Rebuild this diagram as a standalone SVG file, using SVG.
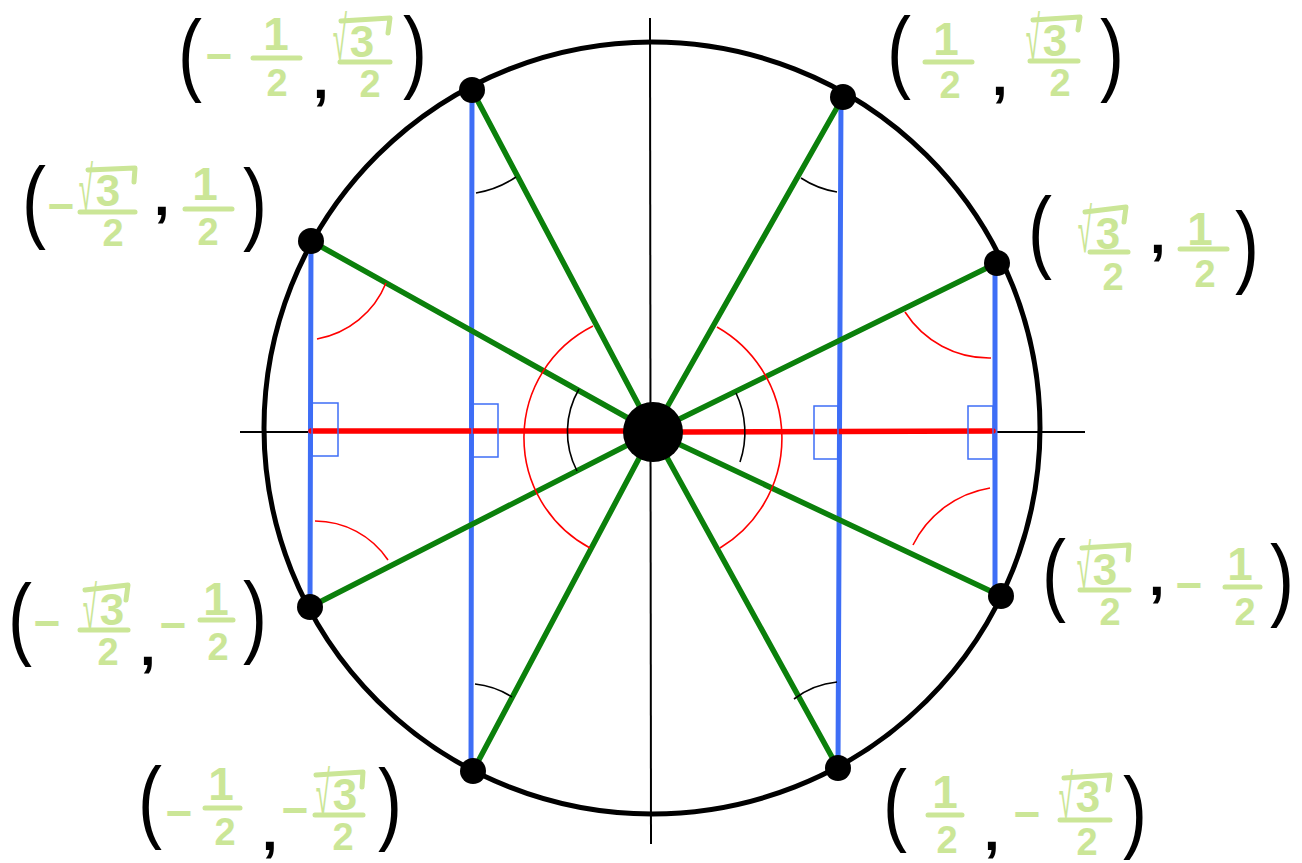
<svg xmlns="http://www.w3.org/2000/svg" width="1302" height="863" viewBox="0 0 1302 863">
<style>
.axis{stroke:#000;stroke-width:2;fill:none}
.circ{stroke:#000;stroke-width:5;fill:none}
.blue{stroke:#3e6ef6;stroke-width:5;stroke-linecap:round;fill:none}
.green{stroke:#0b800b;stroke-width:5.5;stroke-linecap:round;fill:none}
.red{stroke:#ff0000;stroke-width:5.5;stroke-linecap:round;fill:none}
.rarc{stroke:#ff0000;stroke-width:1.6;fill:none}
.karc{stroke:#000;stroke-width:1.6;fill:none}
.box{stroke:#3e6ef6;stroke-width:1.5;fill:none}
.dot{fill:#000}
.p{font-family:"Liberation Sans",Arial,sans-serif;font-size:90px;fill:#000}
.cm{font-family:"Liberation Sans",Arial,sans-serif;font-size:56px;font-weight:bold;fill:#000}
.g{font-family:"Liberation Sans",Arial,sans-serif;font-weight:bold;fill:#cbe697;text-anchor:middle}
.n1{font-size:46px}
.n2{font-size:38px}
.n3{font-size:44px}
.mn{font-size:46px}
.rad{font-family:"Liberation Sans","DejaVu Sans",sans-serif;font-size:62px;fill:#cbe697;text-anchor:end}
.bar{stroke:#cbe697;stroke-width:5;stroke-linecap:round;stroke-linejoin:round;fill:none}
</style>

<g id="axes">
<line class="axis" x1="240" y1="432" x2="1085" y2="432"/>
<line class="axis" x1="650" y1="18" x2="651" y2="844"/>
</g>

<g id="unit-circle">
<ellipse class="circ" cx="652" cy="428" rx="388" ry="386"/>
</g>

<g id="connectors">
<line class="blue" x1="311" y1="241" x2="310" y2="607"/>
<line class="blue" x1="472" y1="90" x2="471" y2="771"/>
<line class="blue" x1="841" y1="97" x2="838" y2="768"/>
<line class="blue" x1="995" y1="263" x2="995" y2="596"/>
<line class="red" x1="311" y1="431" x2="624" y2="431"/>
<line class="red" x1="683" y1="432" x2="993" y2="431"/>
<line class="green" x1="653" y1="432" x2="472" y2="90"/>
<line class="green" x1="653" y1="432" x2="843" y2="97"/>
<line class="green" x1="653" y1="432" x2="311" y2="241"/>
<line class="green" x1="653" y1="432" x2="997" y2="263"/>
<line class="green" x1="653" y1="432" x2="310" y2="607"/>
<line class="green" x1="653" y1="432" x2="1001" y2="596"/>
<line class="green" x1="653" y1="432" x2="473" y2="771"/>
<line class="green" x1="653" y1="432" x2="838" y2="768"/>
</g>

<g id="right-angles">
<rect class="box" x="312" y="403" width="26" height="53"/>
<rect class="box" x="472" y="404" width="26" height="53"/>
<rect class="box" x="814" y="406" width="24" height="53"/>
<rect class="box" x="968" y="406" width="25" height="53"/>
</g>

<g id="angle-marks">
<path class="rarc" d="M593 326 A125 125 0 0 0 590 548"/>
<path class="rarc" d="M717 327 A128 128 0 0 1 720 548"/>
<path class="karc" d="M579 389 A85 85 0 0 0 577 471"/>
<path class="karc" d="M736 393 A92 92 0 0 1 740 462"/>
<path class="rarc" d="M386 283 A92 92 0 0 1 317 339"/>
<path class="rarc" d="M905 312 A100 100 0 0 0 991 358"/>
<path class="rarc" d="M315 521 A88 88 0 0 1 388 560"/>
<path class="rarc" d="M913 545 A105 105 0 0 1 990 488"/>
<path class="karc" d="M476 193 A100 100 0 0 0 516 177"/>
<path class="karc" d="M801 178 A92 92 0 0 0 837 192"/>
<path class="karc" d="M475 684 A85 85 0 0 1 512 697"/>
<path class="karc" d="M794 699 A84 84 0 0 1 837 682"/>
</g>

<g id="points">
<circle class="dot" cx="653" cy="432" r="30"/>
<circle class="dot" cx="472" cy="90" r="13"/>
<circle class="dot" cx="843" cy="97" r="13"/>
<circle class="dot" cx="311" cy="241" r="13"/>
<circle class="dot" cx="997" cy="263" r="13"/>
<circle class="dot" cx="310" cy="607" r="13"/>
<circle class="dot" cx="1001" cy="596" r="13"/>
<circle class="dot" cx="473" cy="771" r="13"/>
<circle class="dot" cx="838" cy="768" r="13"/>
</g>

<g id="label-top-left">
<text class="p" transform="translate(178 84) scale(0.8 1)">(</text>
<text class="g mn" x="219" y="72">−</text>
<text class="g n1" x="276" y="50">1</text>
<line class="bar" x1="253" y1="58" x2="300" y2="58"/>
<text class="g n2" x="277" y="96">2</text>
<text class="cm" x="313" y="98">,</text>
<text class="rad" transform="translate(347 60) scale(0.42 1)">√</text>
<text class="g n3" x="362" y="57">3</text>
<polyline class="bar" points="341,21 390,18 388,33"/>
<line class="bar" x1="340" y1="62" x2="390" y2="62"/>
<text class="g n2" x="370" y="97">2</text>
<text class="p" transform="translate(403 81) scale(0.8 1)">)</text>
</g>

<g id="label-left-upper">
<text class="p" transform="translate(22 231) scale(0.8 1)">(</text>
<text class="g mn" x="61" y="222">−</text>
<text class="rad" transform="translate(93 210) scale(0.42 1)">√</text>
<text class="g n3" x="108" y="206">3</text>
<polyline class="bar" points="88,170 135,168 134,182"/>
<line class="bar" x1="80" y1="212" x2="135" y2="212"/>
<text class="g n2" x="113" y="246">2</text>
<text class="cm" x="154" y="215">,</text>
<text class="g n1" x="205" y="200">1</text>
<line class="bar" x1="185" y1="209" x2="232" y2="209"/>
<text class="g n2" x="208" y="245">2</text>
<text class="p" transform="translate(243 233) scale(0.8 1)">)</text>
</g>

<g id="label-top-right">
<text class="p" transform="translate(887 81) scale(0.8 1)">(</text>
<text class="g n1" x="946" y="55">1</text>
<line class="bar" x1="925" y1="62" x2="972" y2="62"/>
<text class="g n2" x="950" y="98">2</text>
<text class="cm" x="992" y="95">,</text>
<text class="rad" transform="translate(1040 60) scale(0.42 1)">√</text>
<text class="g n3" x="1055" y="56">3</text>
<polyline class="bar" points="1033,20 1080,17 1078,30"/>
<line class="bar" x1="1030" y1="61" x2="1078" y2="61"/>
<text class="g n2" x="1060" y="96">2</text>
<text class="p" transform="translate(1100 84) scale(0.8 1)">)</text>
</g>

<g id="label-right-upper">
<text class="p" transform="translate(1028 261) scale(0.8 1)">(</text>
<text class="rad" transform="translate(1092 252) scale(0.42 1)">√</text>
<text class="g n3" x="1108" y="249">3</text>
<polyline class="bar" points="1085,212 1126,207 1124,222"/>
<line class="bar" x1="1090" y1="252" x2="1128" y2="252"/>
<text class="g n2" x="1113" y="290">2</text>
<text class="cm" x="1150" y="253">,</text>
<text class="g n1" x="1200" y="245">1</text>
<line class="bar" x1="1180" y1="249" x2="1227" y2="249"/>
<text class="g n2" x="1205" y="287">2</text>
<text class="p" transform="translate(1235 276) scale(0.8 1)">)</text>
</g>

<g id="label-left-lower">
<text class="p" transform="translate(8 648) scale(0.8 1)">(</text>
<text class="g mn" x="47" y="639">−</text>
<text class="rad" transform="translate(97 630) scale(0.42 1)">√</text>
<text class="g n3" x="112" y="625">3</text>
<polyline class="bar" points="85,590 128,585 126,600"/>
<line class="bar" x1="80" y1="630" x2="128" y2="630"/>
<text class="g n2" x="108" y="665">2</text>
<text class="cm" x="140" y="665">,</text>
<text class="g mn" x="173" y="641">−</text>
<text class="g n1" x="216" y="615">1</text>
<line class="bar" x1="200" y1="620" x2="233" y2="620"/>
<text class="g n2" x="218" y="660">2</text>
<text class="p" transform="translate(243 646) scale(0.8 1)">)</text>
</g>

<g id="label-bottom-left">
<text class="p" transform="translate(138 831) scale(0.8 1)">(</text>
<text class="g mn" x="179" y="829">−</text>
<text class="g n1" x="221" y="800">1</text>
<line class="bar" x1="205" y1="808" x2="240" y2="808"/>
<text class="g n2" x="225" y="845">2</text>
<text class="cm" x="262" y="850">,</text>
<text class="g mn" x="295" y="826">−</text>
<text class="rad" transform="translate(330 815) scale(0.42 1)">√</text>
<text class="g n3" x="345" y="810">3</text>
<polyline class="bar" points="316,775 363,772 362,787"/>
<line class="bar" x1="315" y1="815" x2="363" y2="815"/>
<text class="g n2" x="343" y="850">2</text>
<text class="p" transform="translate(378 833) scale(0.8 1)">)</text>
</g>

<g id="label-right-lower">
<text class="p" transform="translate(1042 604) scale(0.8 1)">(</text>
<text class="rad" transform="translate(1091 588) scale(0.42 1)">√</text>
<text class="g n3" x="1105" y="585">3</text>
<polyline class="bar" points="1082,548 1129,545 1128,560"/>
<line class="bar" x1="1080" y1="590" x2="1129" y2="590"/>
<text class="g n2" x="1110" y="625">2</text>
<text class="cm" x="1149" y="595">,</text>
<text class="g mn" x="1189" y="601">−</text>
<text class="g n1" x="1240" y="580">1</text>
<line class="bar" x1="1225" y1="587" x2="1260" y2="587"/>
<text class="g n2" x="1245" y="625">2</text>
<text class="p" transform="translate(1270 609) scale(0.8 1)">)</text>
</g>

<g id="label-bottom-right">
<text class="p" transform="translate(883 834) scale(0.8 1)">(</text>
<text class="g n1" x="945" y="808">1</text>
<line class="bar" x1="928" y1="815" x2="962" y2="815"/>
<text class="g n2" x="947" y="853">2</text>
<text class="cm" x="984" y="850">,</text>
<text class="g mn" x="1027" y="830">−</text>
<text class="rad" transform="translate(1073 818) scale(0.42 1)">√</text>
<text class="g n3" x="1088" y="812">3</text>
<polyline class="bar" points="1064,778 1110,775 1108,790"/>
<line class="bar" x1="1060" y1="820" x2="1110" y2="820"/>
<text class="g n2" x="1087" y="855">2</text>
<text class="p" transform="translate(1123 841) scale(0.8 1)">)</text>
</g>
</svg>
